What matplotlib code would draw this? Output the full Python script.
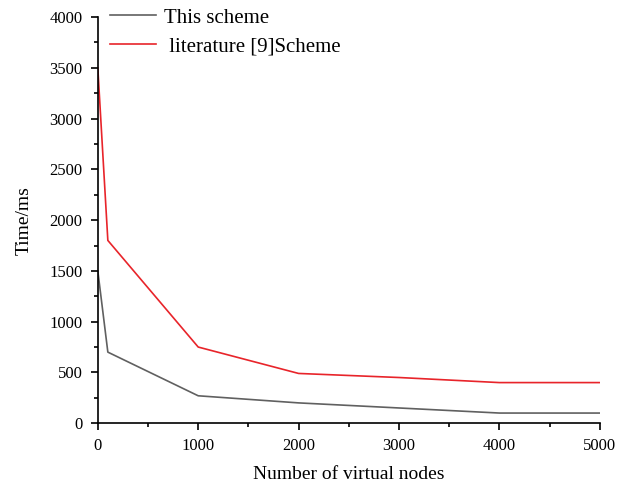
import matplotlib.pyplot as plt
from matplotlib.ticker import MultipleLocator

plt.rcParams['font.family'] = ['Liberation Serif', 'DejaVu Serif']

# Data
nodes = [0, 100, 1000, 2000, 3000, 4000, 5000]
this_scheme = [1500, 700, 270, 200, 150, 100, 100]
lit9_scheme = [3500, 1800, 750, 490, 450, 400, 400]

fig = plt.figure(figsize=(6.19, 4.87), dpi=100)
ax = fig.add_axes([0.158, 0.131, 0.811, 0.834])

ax.plot(nodes, this_scheme, color='#606060', linewidth=1.2, label='This scheme')
ax.plot(nodes, lit9_scheme, color='#e8242a', linewidth=1.2, label=' literature [9]Scheme')

ax.set_xlim(0, 5000)
ax.set_ylim(0, 4000)
ax.xaxis.set_major_locator(MultipleLocator(1000))
ax.xaxis.set_minor_locator(MultipleLocator(500))
ax.yaxis.set_major_locator(MultipleLocator(500))
ax.yaxis.set_minor_locator(MultipleLocator(250))

for side in ['top', 'right']:
    ax.spines[side].set_visible(False)
for side in ['left', 'bottom']:
    ax.spines[side].set_linewidth(1.2)

ax.tick_params(which='major', direction='out', length=5, width=1.2, labelsize=12, pad=6)
ax.tick_params(which='minor', direction='out', length=3, width=1.2)

ax.set_xlabel('Number of virtual nodes', fontsize=14, labelpad=8)
ax.set_ylabel('Time/ms', fontsize=14, labelpad=12)

ax.legend(loc='upper left', bbox_to_anchor=(-0.013, 1.068), frameon=False, fontsize=15,
          handlelength=2.2, handletextpad=0.4, labelspacing=0.45)

fig.savefig('out.png', dpi=100)
